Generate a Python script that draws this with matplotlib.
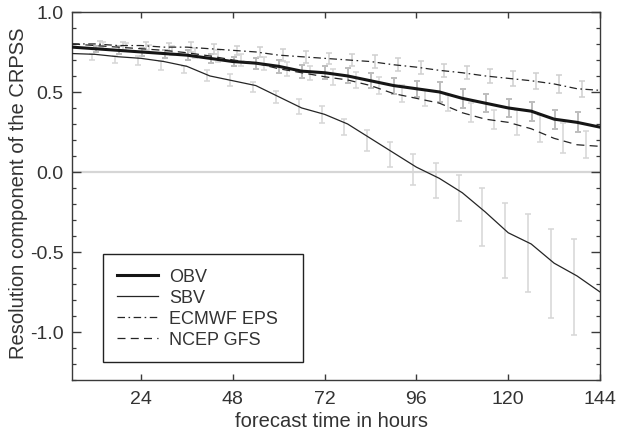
import numpy as np
import matplotlib.pyplot as plt
from matplotlib.ticker import MultipleLocator

# lead times (hours)
lead = [6, 12, 18, 24, 30, 36, 42, 48, 54, 60, 66, 72,
        78, 84, 90, 96, 102, 108, 114, 120, 126, 132, 138, 144]

# resolution component of the CRPSS per method
obv = [0.78, 0.77, 0.76, 0.75, 0.74, 0.73, 0.71, 0.69, 0.68, 0.66, 0.63, 0.62,
       0.60, 0.57, 0.54, 0.52, 0.50, 0.46, 0.43, 0.40, 0.38, 0.33, 0.31, 0.28]
sbv = [0.74, 0.735, 0.72, 0.71, 0.69, 0.66, 0.60, 0.57, 0.54, 0.47, 0.40, 0.36,
       0.30, 0.21, 0.12, 0.03, -0.04, -0.13, -0.25, -0.38, -0.45, -0.57, -0.65, -0.75]
ecmwf = [0.80, 0.80, 0.79, 0.79, 0.78, 0.78, 0.77, 0.76, 0.75, 0.73, 0.72, 0.71,
         0.70, 0.69, 0.67, 0.655, 0.635, 0.62, 0.60, 0.585, 0.57, 0.55, 0.52, 0.51]
ncep = [0.80, 0.79, 0.78, 0.77, 0.76, 0.745, 0.725, 0.70, 0.68, 0.645, 0.62, 0.595,
        0.575, 0.54, 0.49, 0.46, 0.43, 0.37, 0.33, 0.31, 0.27, 0.21, 0.17, 0.16]

# error bars, only for 12..138 h
bar_lead = lead[1:-1]
obv_err = [0.02, 0.025, 0.025, 0.025, 0.03, 0.03, 0.03, 0.035, 0.04, 0.04, 0.04,
           0.047, 0.047, 0.05, 0.05, 0.062, 0.06, 0.057, 0.057, 0.06, 0.06, 0.062]
ecmwf_err = [0.02, 0.025, 0.025, 0.025, 0.03, 0.03, 0.03, 0.033, 0.036, 0.036, 0.036,
             0.04, 0.04, 0.04, 0.041, 0.04, 0.041, 0.046, 0.047, 0.05, 0.054, 0.05]
ncep_err = [0.02, 0.025, 0.025, 0.03, 0.03, 0.035, 0.035, 0.04, 0.045, 0.045, 0.05,
            0.05, 0.055, 0.055, 0.05, 0.05, 0.058, 0.06, 0.078, 0.083, 0.093, 0.083]
sbv_low = [0.70, 0.68, 0.67, 0.64, 0.62, 0.57, 0.54, 0.50, 0.434, 0.361, 0.309,
           0.23, 0.133, 0.029, -0.08, -0.164, -0.307, -0.46, -0.66, -0.749, -0.915, -1.018]
sbv_high = [0.74, 0.725, 0.725, 0.695, 0.66, 0.64, 0.61, 0.56, 0.506, 0.454, 0.413,
            0.334, 0.263, 0.189, 0.112, 0.056, -0.019, -0.10, -0.195, -0.263, -0.359, -0.417]

plt.rcParams['font.family'] = ['Liberation Sans', 'DejaVu Sans']
plt.rcParams['axes.unicode_minus'] = False
txt = '#333333'

fig = plt.figure(figsize=(6.27, 4.31), dpi=100)
ax = fig.add_axes([0.115, 0.116, 0.842, 0.854])

ax.axhline(0, color='#d6d6d6', lw=1.6, zorder=1)

bx = np.array(bar_lead, dtype=float)


def bars(x, y, lo, hi, color, lw):
    ax.errorbar(x, y, yerr=[lo, hi], fmt='none', ecolor=color, elinewidth=lw,
                capsize=2.2, capthick=lw, zorder=2)


y_obv = np.array(obv[1:-1])
bars(bx + 0.2, y_obv, obv_err, obv_err, '#bdbdbd', 1.4)
y_ec = np.array(ecmwf[1:-1])
bars(bx + 1.2, y_ec, ecmwf_err, ecmwf_err, '#cfcfcf', 1.1)
y_nc = np.array(ncep[1:-1])
bars(bx + 2.2, y_nc, ncep_err, ncep_err, '#d6d6d6', 1.1)
y_sb = np.array(sbv[1:-1])
bars(bx - 0.8, y_sb, y_sb - np.array(sbv_low), np.array(sbv_high) - y_sb, '#d6d6d6', 1.1)

ax.plot(lead, obv, color='#151515', lw=2.2, label='OBV', zorder=4)
ax.plot(lead, sbv, color='#252525', lw=0.9, label='SBV', zorder=4)
ax.plot(lead, ecmwf, color='#252525', lw=0.9, dashes=(6, 2.8, 1.3, 2.8),
        label='ECMWF EPS', zorder=4)
ax.plot(lead, ncep, color='#252525', lw=0.9, dashes=(6.4, 4.2),
        label='NCEP GFS', zorder=4)

ax.set_xlim(6, 144)
ax.set_ylim(-1.3, 1.0)
ax.set_xticks([24, 48, 72, 96, 120, 144])
ax.set_yticks([-1.0, -0.5, 0.0, 0.5, 1.0])
ax.set_yticklabels(['-1.0', '-0.5', '0.0', '0.5', '1.0'])
ax.yaxis.set_minor_locator(MultipleLocator(0.1))

for s in ax.spines.values():
    s.set_color('#3a3a3a')
    s.set_linewidth(1.0)

ax.tick_params(which='both', direction='in', top=True, right=True,
               color='#3a3a3a', labelcolor=txt, labelsize=14)
ax.tick_params(axis='x', length=4.5, width=1.0, pad=7.5)
ax.tick_params(axis='y', which='major', length=6.5, width=1.0, pad=6)
ax.tick_params(axis='y', which='minor', length=3.2, width=0.9)

ax.set_xlabel('forecast time in hours', fontsize=14.5, color=txt)
ax.set_ylabel('Resolution component of the CRPSS', fontsize=14.5, color=txt)
ax.xaxis.set_label_coords(0.492, -0.083)
ax.yaxis.set_label_coords(-0.083, 0.51)

leg = ax.legend(loc='lower left', bbox_to_anchor=(0.058, 0.048, 0.38, 0.297),
                mode='expand', frameon=True, fancybox=False, edgecolor='#222222',
                framealpha=1, fontsize=13, handlelength=2.3, handletextpad=0.6,
                labelspacing=0.22, borderpad=0.78, borderaxespad=0)
leg.get_frame().set_linewidth(1.0)
for t in leg.get_texts():
    t.set_color(txt)

fig.savefig('out.png', dpi=100)
